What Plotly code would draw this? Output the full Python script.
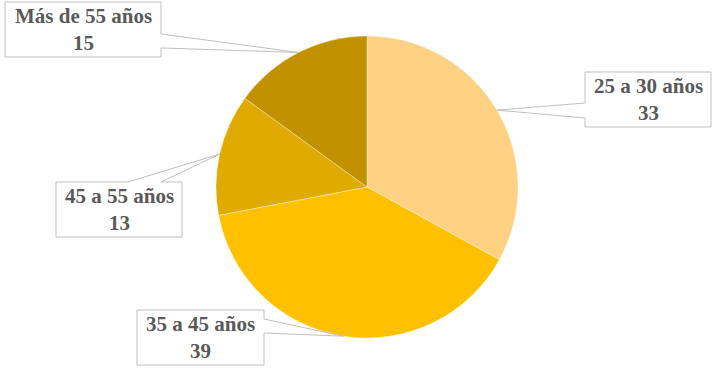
import math
import plotly.graph_objects as go

labels = ["25 a 30 años", "35 a 45 años", "45 a 55 años", "Más de 55 años"]
values = [33, 39, 13, 15]
colors = ["#FFD183", "#FFC000", "#E0AB00", "#C19100"]

W, H = 714, 371
CX, CY, R = 367, 187, 151

# callout boxes (pixel layout): x0, y0, x1, y1, side, base start, base end
boxes = [
    (585, 72, 711, 127, "left", 103, 118),
    (137, 310, 264, 365, "right", 319, 333),
    (56, 182, 182, 237, "top", 128, 161),
    (5, 2, 161, 57, "right", 34, 48),
]

def px(x):
    return x / W

def py(y):
    return 1 - y / H

fig = go.Figure(go.Pie(
    labels=labels, values=values, sort=False, direction="clockwise", rotation=0,
    marker=dict(colors=colors, line=dict(color="rgba(255,255,255,0.6)", width=0.6)),
    textinfo="none", hoverinfo="label+value",
    domain=dict(x=[px(CX - R), px(CX + R)], y=[py(CY + R), py(CY - R)]),
))

total = sum(values)
cum = 0
shapes = []
annotations = []
for lab, val, (x0, y0, x1, y1, side, b0, b1) in zip(labels, values, boxes):
    mid = (cum + val / 2) / total * 2 * math.pi
    cum += val
    tx = CX + R * math.sin(mid)
    ty = CY - R * math.cos(mid)
    if side == "right":
        pts = [(x0, y0), (x1, y0), (x1, b0), (tx, ty), (x1, b1), (x1, y1), (x0, y1)]
    elif side == "left":
        pts = [(x0, y0), (x1, y0), (x1, y1), (x0, y1), (x0, b1), (tx, ty), (x0, b0)]
    else:  # top
        pts = [(x0, y0), (b0, y0), (tx, ty), (b1, y0), (x1, y0), (x1, y1), (x0, y1)]
    path = "M " + " L ".join(f"{px(a):.5f},{py(b):.5f}" for a, b in pts) + " Z"
    shapes.append(dict(type="path", path=path, xref="paper", yref="paper",
                       line=dict(color="#BFBFBF", width=1), fillcolor="white"))
    annotations.append(dict(
        x=px((x0 + x1) / 2), y=py((y0 + y1) / 2), xref="paper", yref="paper",
        text=f"<b>{lab}</b><br><b>{val}</b>", showarrow=False,
        font=dict(family="Liberation Serif", size=21, color="#595959"),
        xanchor="center", yanchor="middle", align="center",
    ))

fig.update_layout(
    width=W, height=H, margin=dict(l=0, r=0, t=0, b=0),
    paper_bgcolor="white", plot_bgcolor="white", showlegend=False,
    shapes=shapes, annotations=annotations,
)
fig.write_html("out.html", config={"displayModeBar": False},
               post_script="document.body.style.margin='0';")
